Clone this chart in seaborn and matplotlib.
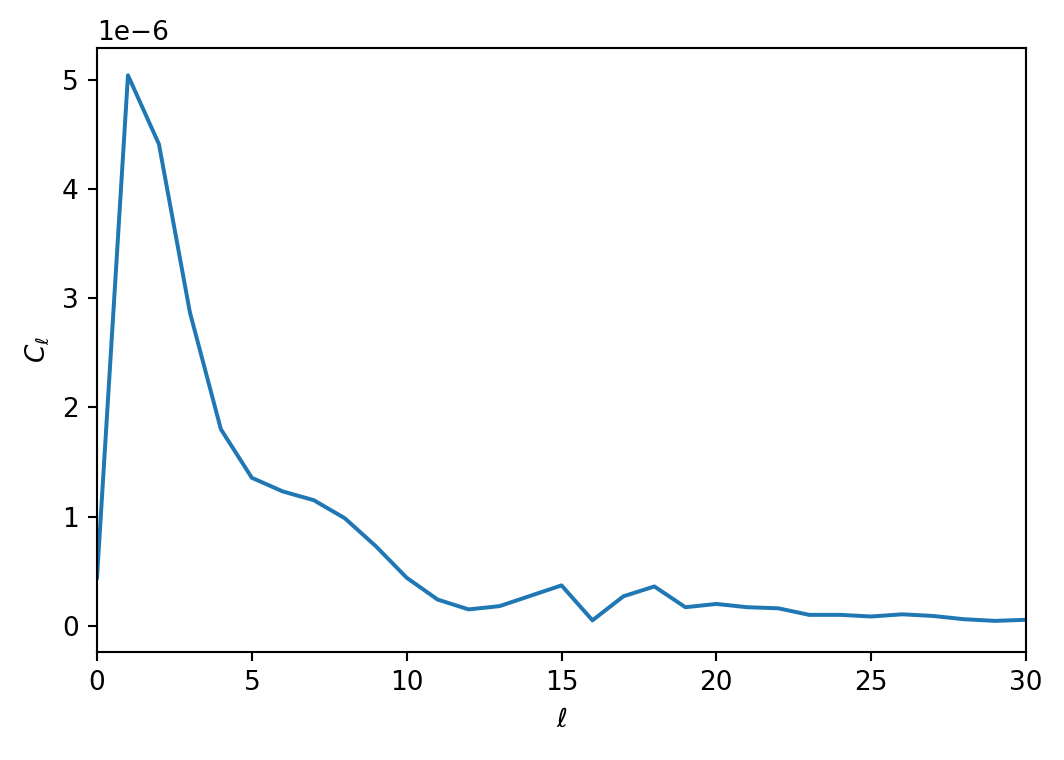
import numpy as np
import pandas as pd
import matplotlib
matplotlib.use('Agg')
import matplotlib.pyplot as plt
import seaborn as sns

# multipole index and angular power spectrum values (units of 1e-6)
ell = list(range(0, 31))
cl_e6 = [0.44, 5.04, 4.41, 2.87, 1.80, 1.355, 1.23, 1.15, 0.985, 0.73,
         0.44, 0.24, 0.15, 0.18, 0.275, 0.37, 0.05, 0.27, 0.36, 0.17,
         0.20, 0.17, 0.16, 0.10, 0.10, 0.085, 0.105, 0.09, 0.06, 0.045,
         0.055]

df = pd.DataFrame({'ell': ell, 'cl': np.array(cl_e6) * 1e-6})

fig = plt.figure(figsize=(5.6, 4.0), dpi=190)
ax = fig.add_axes([97 / 1064, 108 / 760, 929 / 1064, 604 / 760])
sns.lineplot(data=df, x='ell', y='cl', ax=ax, color='#1f77b4', linewidth=1.5)
ax.set_xlim(0, 30)
ax.set_ylim(-0.24e-6, 5.29e-6)
ax.set_xlabel(r'$\ell$')
ax.set_ylabel(r'$C_\ell$')

fig.savefig('out.png', dpi=190)
